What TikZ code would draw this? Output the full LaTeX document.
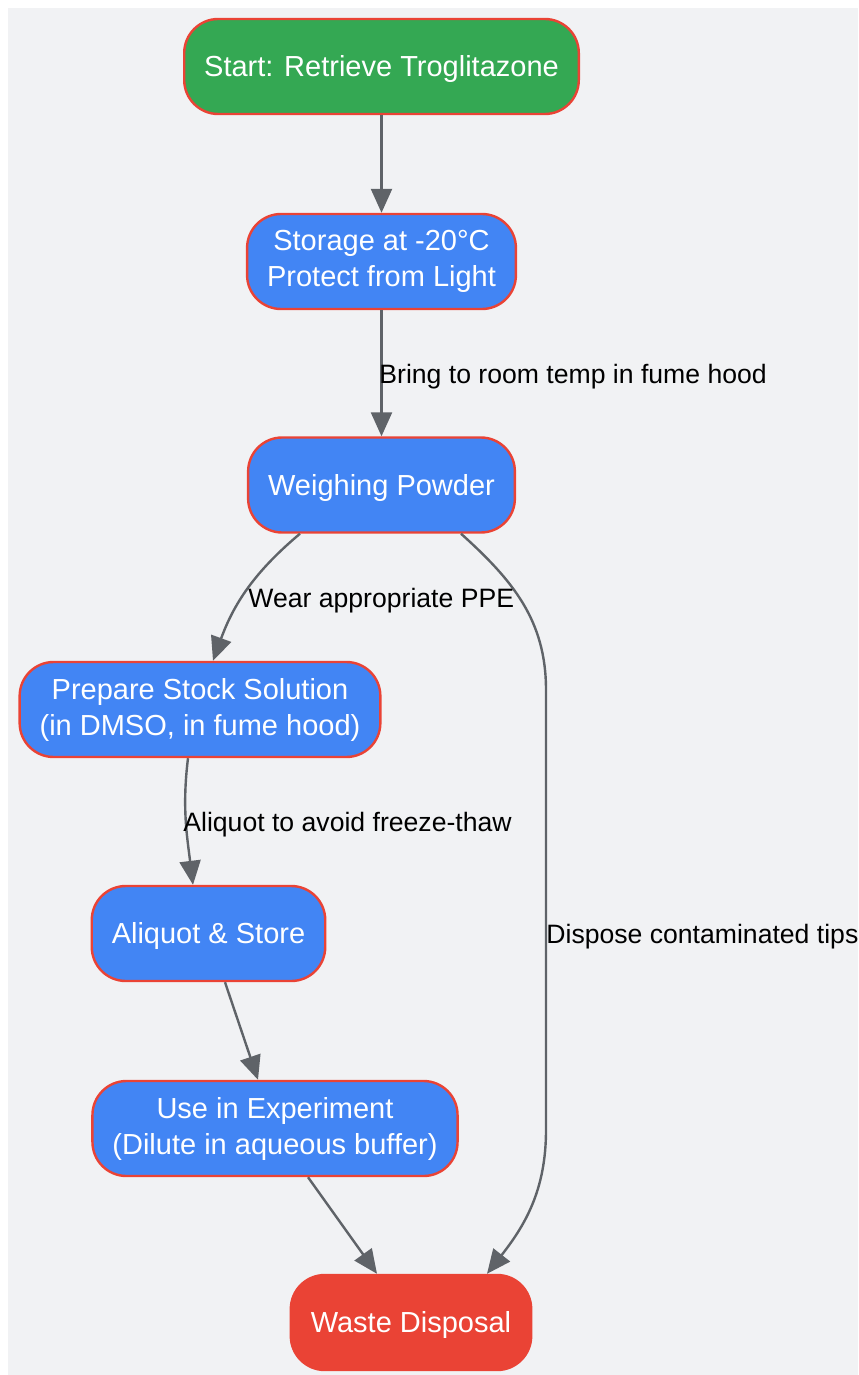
\documentclass[tikz,border=0pt]{standalone}
\usepackage{fontspec}
\setmainfont{Liberation Sans}
\usetikzlibrary{arrows.meta}

\definecolor{bggray}{HTML}{F1F2F4}
\definecolor{gstart}{HTML}{34A853}
\definecolor{bstep}{HTML}{4285F4}
\definecolor{rborder}{HTML}{EA4335}
\definecolor{edgegray}{HTML}{5F6368}

\begin{document}
\begin{tikzpicture}
[
  x=0.5pt, y=-0.5pt,
  >={Triangle[length=12pt, width=10.5pt]},
  box/.style = {rectangle, rounded corners=17pt, draw=rborder, line width=1.2pt,
                text=white, align=center, inner xsep=10pt, minimum height=47.5pt,
                font=\fontsize{14.5}{18}\selectfont,
                execute at begin node={\rule{0pt}{0.9em}}},
  startbox/.style = {box, fill=gstart},
  stepbox/.style = {box, fill=bstep},
  endbox/.style = {box, fill=rborder},
  edge/.style = {->, draw=edgegray, line width=1.2pt},
  elabel/.style = {anchor=west, inner sep=1pt, text=black, font=\fontsize{13.3}{16}\selectfont},
]

\useasboundingbox (0,0) rectangle (858,1375);
\fill[bggray] (8,8) rectangle (858,1375);

\node (start) at (381.5,66.5) [startbox] {Start: Retrieve Troglitazone};
\node (store) at (381.5,261.5) [stepbox] {Storage at -20°C\\Protect from Light};
\node (weigh) at (381.5,485) [stepbox] {Weighing Powder};
\node (prep) at (200,709.5) [stepbox] {Prepare Stock Solution\\(in DMSO, in fume hood)};
\node (aliq) at (208.5,933.5) [stepbox] {Aliquot \& Store};
\node (use) at (275,1128.5) [stepbox] {Use in Experiment\\(Dilute in aqueous buffer)};
\node (waste) at (411,1322.5) [endbox] {Waste Disposal};

\draw[edge] (start) -- (store);
\draw[edge] (store) -- (weigh);
\draw[edge] ([xshift=-40.75pt]weigh.south) to[out=-140, in=70] ([xshift=6.5pt]prep.north);
\draw[edge] ([xshift=-6pt]prep.south) to[out=-97, in=97] ([xshift=-7.75pt]aliq.north);
\draw[edge] ([xshift=8.25pt]aliq.south) -- ([xshift=-8.5pt]use.north);
\draw[edge] ([xshift=16.5pt]use.south) -- ([xshift=-17pt]waste.north);
\draw[edge] ([xshift=39.75pt]weigh.south) to[out=-42, in=90] (546,690) -- (546,1130)
  to[out=-90, in=52] ([xshift=38pt]waste.north);

\node (l1) at (377,377) [elabel] {Bring to room temp in fume hood};
\node (l2) at (246,601) [elabel] {Wear appropriate PPE};
\node (l3) at (181,825) [elabel] {Aliquot to avoid freeze-thaw};
\node (l4) at (544,937) [elabel] {Dispose contaminated tips};

\end{tikzpicture}
\end{document}
